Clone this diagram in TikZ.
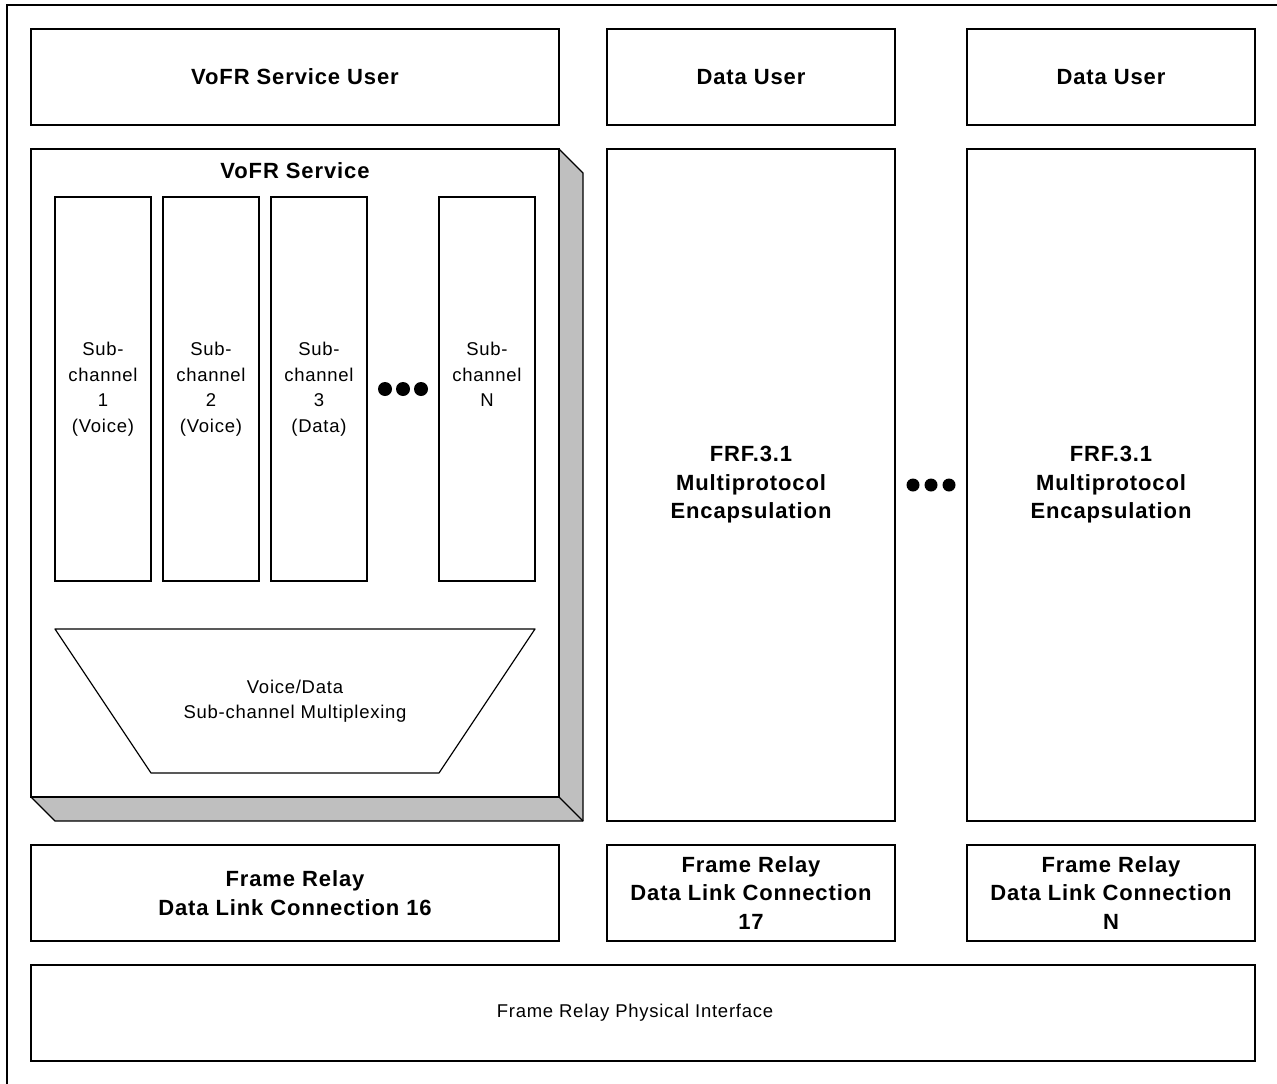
\documentclass[tikz,border=0pt]{standalone}
\usepackage{fontspec}
\setmainfont[LetterSpace=4]{Liberation Sans}
\begin{document}
\begin{tikzpicture}[x=1pt,y=-1pt,
  box/.style={draw=black,line width=1.2pt,fill=white,inner sep=0pt},
  btxt/.style={font=\fontsize{22}{28.5}\selectfont\bfseries,align=center,inner sep=0pt},
  rtxt/.style={font=\fontsize{18.5}{25.5}\selectfont,align=center,inner sep=0pt},
  dot/.style={circle,fill=black,inner sep=0pt,minimum size=14pt},
  sdot/.style={circle,fill=black,inner sep=0pt,minimum size=13pt}]
\useasboundingbox (0,0) rectangle (1277,1084);
% outer frame (cut at right/bottom)
\draw[line width=1.2pt] (7,1090) -- (7,5) -- (1290,5);
% top row
\node[box,minimum width=528pt,minimum height=96pt] (vuser) at (295,77) {};
\node[btxt] (vusert) at (vuser.center) {VoFR Service User};
\node[box,minimum width=288pt,minimum height=96pt] (du1) at (751,77) {};
\node[btxt] (du1t) at (du1.center) {Data User};
\node[box,minimum width=288pt,minimum height=96pt] (du2) at (1111,77) {};
\node[btxt] (du2t) at (du2.center) {Data User};
% VoFR service with 3D shadow
\filldraw[fill=black!25,draw=black,line width=1.2pt,line join=round]
  (559,149) -- (583,173) -- (583,821) -- (55,821) -- (31,797) -- (559,797) -- cycle;
\node[box,minimum width=528pt,minimum height=648pt] (vofr) at (295,473) {};
\draw[line width=1.2pt] (vofr.south east) -- (583,821);
\node[btxt] (vofrt) at (295,171) {VoFR Service};
% sub-channels
\node[box,minimum width=96pt,minimum height=384pt] (sc1) at (103,389) {};
\node[rtxt] at (sc1.center) {Sub-\\channel\\1\\(Voice)};
\node[box,minimum width=96pt,minimum height=384pt] (sc2) at (211,389) {};
\node[rtxt] at (sc2.center) {Sub-\\channel\\2\\(Voice)};
\node[box,minimum width=96pt,minimum height=384pt] (sc3) at (319,389) {};
\node[rtxt] at (sc3.center) {Sub-\\channel\\3\\(Data)};
\node[box,minimum width=96pt,minimum height=384pt] (scn) at (487,389) {};
\node[rtxt] at (scn.center) {Sub-\\channel\\N\\\phantom{(Voice)}};
\node[dot] (d1) at (385,389) {};
\node[dot] (d2) at (403,389) {};
\node[dot] (d3) at (421,389) {};
% multiplexer trapezoid
\draw[line width=1.2pt,fill=white,line join=round]
  (55,629) -- (535,629) -- (439,773) -- (151,773) -- cycle;
\node[rtxt] (mux) at (295,701) {Voice/Data\\Sub-channel Multiplexing};
% data columns
\node[box,minimum width=288pt,minimum height=672pt] (fe1) at (751,485) {};
\node[btxt] at (fe1.center) {FRF.3.1\\Multiprotocol\\Encapsulation};
\node[box,minimum width=288pt,minimum height=672pt] (fe2) at (1111,485) {};
\node[btxt] at (fe2.center) {FRF.3.1\\Multiprotocol\\Encapsulation};
\node[sdot] (e1) at (913,485) {};
\node[sdot] (e2) at (931,485) {};
\node[sdot] (e3) at (949,485) {};
% DLC row
\node[box,minimum width=528pt,minimum height=96pt] (dlc16) at (295,893) {};
\node[btxt] at (dlc16.center) {Frame Relay\\Data Link Connection 16};
\node[box,minimum width=288pt,minimum height=96pt] (dlc17) at (751,893) {};
\node[btxt] at (dlc17.center) {Frame Relay\\Data Link Connection\\17};
\node[box,minimum width=288pt,minimum height=96pt] (dlcn) at (1111,893) {};
\node[btxt] at (dlcn.center) {Frame Relay\\Data Link Connection\\N};
% physical
\node[box,minimum width=1224pt,minimum height=96pt] (phys) at (643,1013) {};
\node[rtxt] at (635,1013) {Frame Relay Physical Interface};
\end{tikzpicture}
\end{document}
